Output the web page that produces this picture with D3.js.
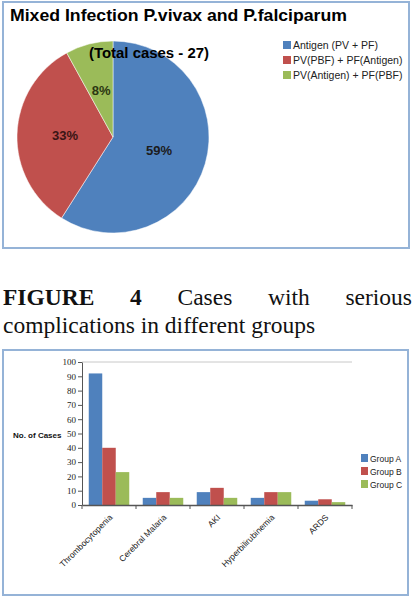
<!DOCTYPE html>
<html>
<head>
<meta charset="utf-8">
<script src="https://cdnjs.cloudflare.com/ajax/libs/d3/7.8.5/d3.min.js"></script>
<style>
  body { margin: 0; background: #fff; }
  svg { display: block; }
</style>
</head>
<body>
<script>
// pie data
const pieLabels = ["Antigen (PV + PF)", "PV(PBF) + PF(Antigen)", "PV(Antigen) + PF(PBF)"];
const pieValues = [59, 33, 8];

// bar data
const categories = ["Thrombocytopenia", "Cerebral Malaria", "AKI", "Hyperbilirubinemia", "ARDS"];
const groups = ["Group A", "Group B", "Group C"];
const groupA = [92, 5, 9, 5, 3];
const groupB = [40, 9, 12, 9, 4];
const groupC = [23, 5, 5, 9, 2];
const yTicks = [0, 10, 20, 30, 40, 50, 60, 70, 80, 90, 100];

const colors = ["#4F81BD", "#C0504D", "#9BBB59"];
const labelColors = ["#1c1c1c", "#3a1515", "#2b3712"];
const frameColor = "#95B3D7";

const svg = d3.select("body").append("svg").attr("width", 417).attr("height", 605);

/* ---------- pie chart ---------- */
svg.append("rect").attr("x", 3).attr("y", 2).attr("width", 406).attr("height", 246)
  .attr("fill", "#fff").attr("stroke", frameColor).attr("stroke-width", 2);

svg.append("text").attr("x", 10).attr("y", 21)
  .attr("font-family", "Liberation Sans, Arial, sans-serif").attr("font-weight", "bold")
  .attr("font-size", 17).attr("textLength", 337).attr("lengthAdjust", "spacingAndGlyphs")
  .text("Mixed Infection P.vivax and P.falciparum");

const R = 96;
const pieG = svg.append("g").attr("transform", "translate(113,137)");
const pie = d3.pie().sort(null).value(d => d)(pieValues);
const arc = d3.arc().innerRadius(0).outerRadius(R);

pieG.selectAll("path").data(pie).enter().append("path")
  .attr("d", arc).attr("fill", (d, i) => colors[i])
  .attr("stroke", "#fff").attr("stroke-width", 0.5);

pieG.selectAll("text.pct").data(pie).enter().append("text").attr("class", "pct")
  .attr("transform", d => `translate(${arc.centroid(d)})`)
  .attr("text-anchor", "middle").attr("dominant-baseline", "central")
  .attr("font-family", "Liberation Sans, Arial, sans-serif").attr("font-weight", "bold")
  .attr("font-size", 13).attr("fill", (d, i) => labelColors[i])
  .text(d => d.data + "%");

svg.append("text").attr("x", 149).attr("y", 58).attr("text-anchor", "middle")
  .attr("font-family", "Liberation Sans, Arial, sans-serif").attr("font-weight", "bold")
  .attr("font-size", 14).attr("textLength", 120).attr("lengthAdjust", "spacingAndGlyphs")
  .text("(Total cases - 27)");

const pieLeg = svg.append("g").selectAll("g").data(pieLabels).enter().append("g")
  .attr("transform", (d, i) => `translate(283,${41 + i * 15})`);
pieLeg.append("rect").attr("width", 8).attr("height", 8).attr("fill", (d, i) => colors[i]);
pieLeg.append("text").attr("x", 10).attr("y", 8)
  .attr("font-family", "Liberation Sans, Arial, sans-serif").attr("font-size", 10.5)
  .attr("fill", "#222").text(d => d);

/* ---------- caption ---------- */
const capFont = "Liberation Serif, Times New Roman, serif";
const line1 = [["FIGURE", true], ["4", true], ["Cases", false], ["with", false], ["serious", false]];
const line1G = svg.append("g");
const words = line1G.selectAll("text").data(line1).enter().append("text")
  .attr("y", 305).attr("font-family", capFont).attr("font-size", 23.5)
  .attr("font-weight", d => d[1] ? "bold" : "normal").attr("fill", "#111")
  .text(d => d[0]);
// justify the first line between x=3 and x=412
const widths = [];
words.each(function () { widths.push(this.getComputedTextLength()); });
const gap = (409 - d3.sum(widths)) / (widths.length - 1);
let cx = 3;
words.attr("x", (d, i) => { const x = cx; cx += widths[i] + gap; return x; });

svg.append("text").attr("x", 3).attr("y", 333).attr("font-family", capFont)
  .attr("font-size", 23.5).attr("fill", "#111").text("complications in different groups");

/* ---------- bar chart ---------- */
svg.append("rect").attr("x", 3).attr("y", 350).attr("width", 405).attr("height", 245)
  .attr("fill", "#fff").attr("stroke", frameColor).attr("stroke-width", 2);

const x0 = d3.scaleBand().domain(categories).range([82, 352]).paddingInner(0.25).paddingOuter(0.125);
const x1 = d3.scaleBand().domain(groups).range([0, x0.bandwidth()]);
const y = d3.scaleLinear().domain([0, 100]).range([505, 362]);
const series = [groupA, groupB, groupC];

// top gridline
svg.append("line").attr("x1", 82).attr("x2", 352).attr("y1", y(100)).attr("y2", y(100))
  .attr("stroke", "#c8c8c8").attr("stroke-width", 1);

categories.forEach((c, ci) => {
  svg.append("g").selectAll("rect").data(groups).enter().append("rect")
    .attr("x", g => x0(c) + x1(g)).attr("width", x1.bandwidth())
    .attr("y", (g, gi) => y(series[gi][ci]))
    .attr("height", (g, gi) => y(0) - y(series[gi][ci]))
    .attr("fill", (g, gi) => colors[gi]);
});

const yAxis = svg.append("g").attr("transform", "translate(82,0)")
  .call(d3.axisLeft(y).tickValues(yTicks).tickSize(4).tickSizeOuter(0));
yAxis.select(".domain").attr("stroke", "#555");
yAxis.selectAll(".tick line").attr("stroke", "#555");
yAxis.selectAll("text").attr("font-family", capFont).attr("font-size", 9).attr("fill", "#222").attr("x", -6);

const xAxis = svg.append("g").attr("transform", `translate(0,${y(0)})`)
  .call(d3.axisBottom(x0).tickSize(0).tickSizeOuter(0));
xAxis.select(".domain").attr("stroke", "#555").attr("stroke-width", 1.5);
xAxis.selectAll(".tick text")
  .attr("font-family", "Liberation Sans, Arial, sans-serif").attr("font-size", 8.5).attr("fill", "#222")
  .attr("text-anchor", "end").attr("dy", 0).attr("y", 0)
  .attr("transform", "translate(4,13) rotate(-45)");
// category boundary ticks
svg.append("g").selectAll("line").data(d3.range(categories.length + 1)).enter().append("line")
  .attr("x1", i => 82 + i * x0.step()).attr("x2", i => 82 + i * x0.step())
  .attr("y1", y(0)).attr("y2", y(0) + 4).attr("stroke", "#555");

svg.append("text").attr("x", 13).attr("y", 438)
  .attr("font-family", "Liberation Sans, Arial, sans-serif").attr("font-weight", "bold")
  .attr("font-size", 8).attr("fill", "#111").text("No. of Cases");

const barLeg = svg.append("g").selectAll("g").data(groups).enter().append("g")
  .attr("transform", (d, i) => `translate(361,${454 + i * 13})`);
barLeg.append("rect").attr("width", 7).attr("height", 8).attr("fill", (d, i) => colors[i]);
barLeg.append("text").attr("x", 9).attr("y", 8)
  .attr("font-family", "Liberation Sans, Arial, sans-serif").attr("font-size", 8.5)
  .attr("fill", "#222").text(d => d);
</script>
</body>
</html>
